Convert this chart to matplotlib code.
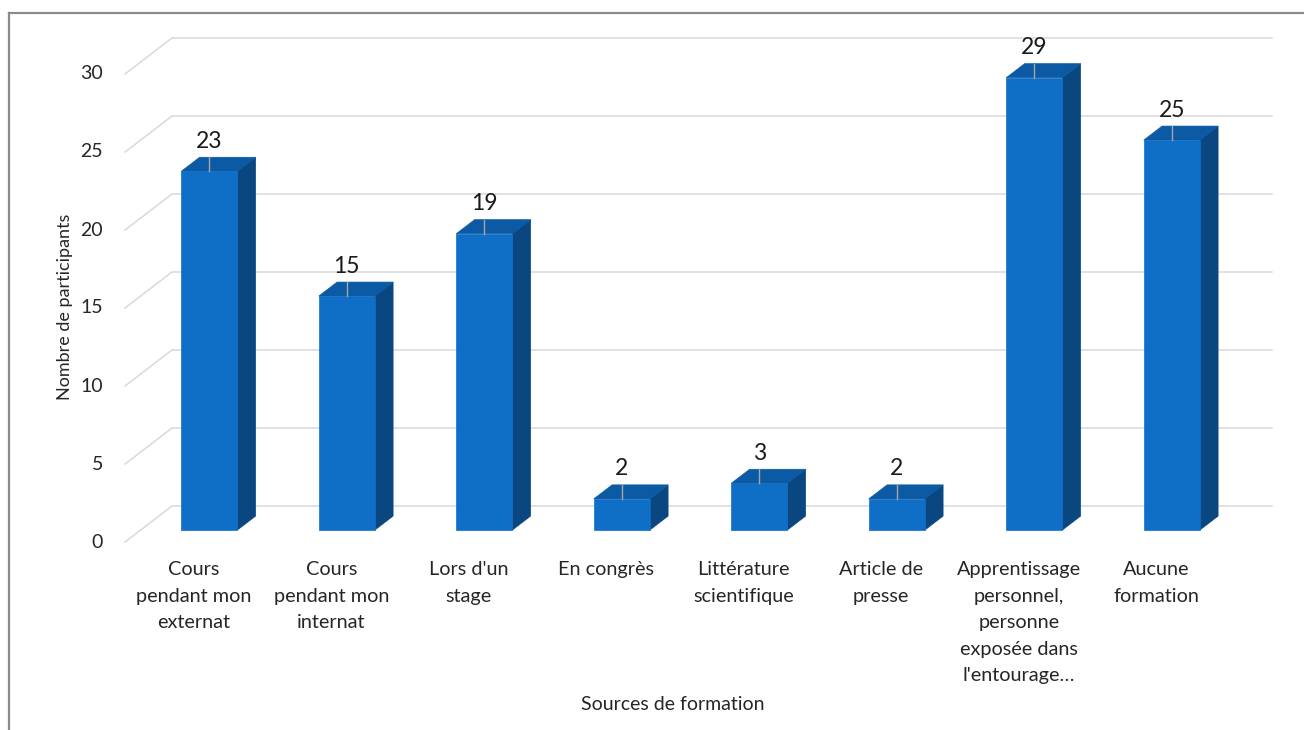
import numpy as np
import matplotlib.pyplot as plt
from matplotlib.patches import Polygon
from matplotlib.lines import Line2D

plt.rcParams['font.family'] = ['Lato', 'DejaVu Sans']

# données
categories = [
    "Cours\npendant mon\nexternat",
    "Cours\npendant mon\ninternat",
    "Lors d'un\nstage",
    "En congrès",
    "Littérature\nscientifique",
    "Article de\npresse",
    "Apprentissage\npersonnel,\npersonne\nexposée dans\nl'entourage…",
    "Aucune\nformation",
]
participants = [23, 15, 19, 2, 3, 2, 29, 25]
yticks = [0, 5, 10, 15, 20, 25, 30]

W, H = 1304, 730
fig = plt.figure(figsize=(W / 100, H / 100), dpi=100)

# axes: x -0.5..7.827 sur 125..1270 px, y 0..32.31 sur 542..38 px
left, right = 125 / W, 1270 / W
bottom, top = 1 - 542 / H, 1 - 38 / H
ax = fig.add_axes([left, bottom, right - left, top - bottom])
n = len(categories)
px_x = 137.5           # px par catégorie
px_y = 15.6            # px par unité
ax.set_xlim(-0.5, -0.5 + (1270 - 125) / px_x)
ax.set_ylim(0, (542 - 38) / px_y)

# vecteur de profondeur (perspective)
dx, dy = 47 / px_x, 36 / px_y
grid_c = '#d9d9d9'
for v in yticks:
    ax.plot([-0.5, -0.5 + dx, n - 0.5 + dx], [v, v + dy, v + dy],
            color=grid_c, lw=1.1, zorder=1, clip_on=False)

# barres 3D
front_f = 0.33       # position de la face avant dans la profondeur
depth_f = 0.39       # profondeur de la barre
bw = 56 / px_x
c_front, c_top, c_side = '#0f6fc6', '#0c59a4', '#0a4780'
for i, v in enumerate(participants):
    x0 = i - bw / 2 + front_f * dx
    y0 = front_f * dy
    x1 = x0 + bw
    ddx, ddy = depth_f * dx, depth_f * dy
    front = [(x0, y0), (x1, y0), (x1, y0 + v), (x0, y0 + v)]
    topf = [(x0, y0 + v), (x1, y0 + v), (x1 + ddx, y0 + v + ddy), (x0 + ddx, y0 + v + ddy)]
    side = [(x1, y0), (x1 + ddx, y0 + ddy), (x1 + ddx, y0 + v + ddy), (x1, y0 + v)]
    for pts, c in [(side, c_side), (topf, c_top), (front, c_front)]:
        ax.add_patch(Polygon(pts, closed=True, facecolor=c, edgecolor=c, lw=0.5, zorder=3))
    xc = (x0 + x1) / 2
    ax.plot([xc, xc], [y0 + v, y0 + v + ddy], color='#a6a6a6', lw=1, zorder=4)
    ax.annotate(str(v), (xc, y0 + v), xytext=(0, 30 * 0.72), textcoords='offset points',
                ha='center', va='center', fontsize=16.5, color='#1a1a1a', zorder=5)

# étiquettes des catégories
for i, lab in enumerate(categories):
    ax.annotate(lab, (i, 0), xytext=(0, -19 * 0.72), textcoords='offset points',
                ha='center', va='top', fontsize=14.3, color='#262626', linespacing=1.68)

# graduations
for v in yticks:
    ax.annotate(str(v), (-0.5, v), xytext=(-22 * 0.72, 0), textcoords='offset points',
                ha='right', va='center', fontsize=14, color='#262626')

ax.axis('off')

fig.text(65 / W, 1 - 307 / H, 'Nombre de participants', rotation=90,
         ha='center', va='center', fontsize=13, color='#262626')
fig.text(673 / W, 1 - 705 / H, 'Sources de formation',
         ha='center', va='center', fontsize=14, color='#262626')

# cadre
bx, by = 8.5 / W, 1 - 12.5 / H
fig.add_artist(Line2D([bx, 1], [by, by], transform=fig.transFigure, color='#8a8a8a', lw=1.6))
fig.add_artist(Line2D([bx, bx], [by, 0], transform=fig.transFigure, color='#8a8a8a', lw=1.6))

fig.savefig('out.png', dpi=100)
